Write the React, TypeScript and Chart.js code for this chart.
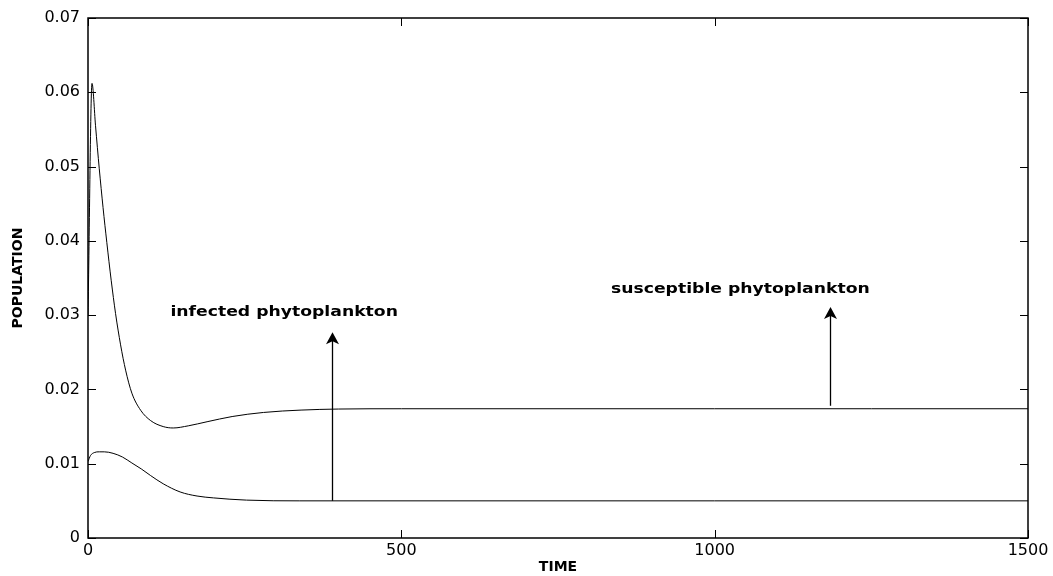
import React, { useEffect, useRef } from "react";
import { Chart, registerables } from "chart.js";

Chart.register(...registerables);

// ---- data ----
const susceptibleTime = [0, 6.4, 12, 18, 24, 30, 37, 44, 52, 60, 70, 84, 100, 120, 136, 160, 190, 230, 280, 340, 400, 500, 750, 1000, 1250, 1500];
const susceptibleValue = [0.030, 0.0612, 0.0555, 0.0497, 0.0445, 0.0398, 0.0347, 0.0302, 0.0260, 0.0226, 0.0195, 0.0172, 0.0158, 0.0150, 0.01481, 0.0151, 0.01565, 0.01635, 0.0169, 0.01722, 0.01736, 0.0174, 0.0174, 0.0174, 0.0174, 0.0174];

const infectedTime = [0, 4, 10, 18, 26, 40, 55, 70, 85, 100, 120, 147, 174, 200, 253, 338, 450, 750, 1000, 1500];
const infectedValue = [0.0103, 0.0111, 0.0115, 0.0116, 0.0116, 0.0114, 0.0109, 0.0101, 0.0093, 0.0084, 0.0073, 0.0062, 0.00565, 0.0054, 0.0051, 0.0050, 0.0050, 0.0050, 0.0050, 0.0050];

const xTicks = [0, 500, 1000, 1500];
const yTicks = [0, 0.01, 0.02, 0.03, 0.04, 0.05, 0.06, 0.07];

// annotations (in data units)
const annotationLabels = ["infected phytoplankton", "susceptible phytoplankton"];
const annotationArrowX = [389, 1184];
const annotationArrowFrom = [0.005, 0.0178];
const annotationArrowTo = [0.0277, 0.0311];
const annotationTextX = [313, 1041];
const annotationTextY = [0.0304, 0.0335];

const FONT = "'DejaVu Sans', sans-serif";
const TEXT_STRETCH = 1.23;

const framePlugin = {
  id: "frameTicks",
  afterDatasetsDraw(chart: any) {
    const { ctx, chartArea } = chart;
    const xs = chart.scales.x;
    const ys = chart.scales.y;
    ctx.save();
    ctx.strokeStyle = "#000";
    ctx.lineWidth = 1.5;
    ctx.strokeRect(chartArea.left, chartArea.top, chartArea.right - chartArea.left, chartArea.bottom - chartArea.top);
    ctx.lineWidth = 1;
    const L = 8;
    ctx.beginPath();
    for (const v of yTicks) {
      const py = Math.round(ys.getPixelForValue(v)) + 0.5;
      ctx.moveTo(chartArea.left, py);
      ctx.lineTo(chartArea.left + L, py);
      ctx.moveTo(chartArea.right, py);
      ctx.lineTo(chartArea.right - L, py);
    }
    for (const v of xTicks) {
      const px = Math.round(xs.getPixelForValue(v)) + 0.5;
      ctx.moveTo(px, chartArea.bottom);
      ctx.lineTo(px, chartArea.bottom - L);
      ctx.moveTo(px, chartArea.top);
      ctx.lineTo(px, chartArea.top + L);
    }
    ctx.stroke();

    // arrows + labels
    for (let i = 0; i < annotationLabels.length; i++) {
      const ax = Math.round(xs.getPixelForValue(annotationArrowX[i])) + 0.5;
      const y0 = ys.getPixelForValue(annotationArrowFrom[i]);
      const y1 = ys.getPixelForValue(annotationArrowTo[i]);
      ctx.lineWidth = 1.3;
      ctx.beginPath();
      ctx.moveTo(ax, y0);
      ctx.lineTo(ax, y1 + 4);
      ctx.stroke();
      ctx.fillStyle = "#000";
      ctx.beginPath();
      ctx.moveTo(ax, y1);
      ctx.lineTo(ax - 6.5, y1 + 12);
      ctx.lineTo(ax, y1 + 9);
      ctx.lineTo(ax + 6.5, y1 + 12);
      ctx.closePath();
      ctx.fill();

      ctx.save();
      const tx = xs.getPixelForValue(annotationTextX[i]);
      const ty = ys.getPixelForValue(annotationTextY[i]);
      ctx.translate(tx, ty);
      ctx.scale(TEXT_STRETCH, 1);
      ctx.font = `bold 14px ${FONT}`;
      ctx.textAlign = "center";
      ctx.textBaseline = "middle";
      ctx.fillText(annotationLabels[i], 0, 0);
      ctx.restore();
    }
    ctx.restore();
  },
};

export default function App() {
  const ref = useRef<HTMLCanvasElement | null>(null);
  useEffect(() => {
    document.body.style.margin = "0";
    const canvas = ref.current!;
    const chart = new Chart(canvas, {
      type: "line",
      data: {
        datasets: [
          {
            label: "susceptible phytoplankton",
            data: susceptibleTime.map((t, i) => ({ x: t, y: susceptibleValue[i] })),
            borderColor: "#000",
            borderWidth: 1,
            pointRadius: 0,
            cubicInterpolationMode: "monotone",
            fill: false,
          },
          {
            label: "infected phytoplankton",
            data: infectedTime.map((t, i) => ({ x: t, y: infectedValue[i] })),
            borderColor: "#000",
            borderWidth: 1,
            pointRadius: 0,
            cubicInterpolationMode: "monotone",
            fill: false,
          },
        ],
      },
      options: {
        responsive: false,
        animation: false,
        layout: { padding: { left: 0, right: 25, top: 18, bottom: 0 } },
        plugins: { legend: { display: false }, tooltip: { enabled: false }, title: { display: false } },
        scales: {
          x: {
            type: "linear",
            min: 0,
            max: 1500,
            afterBuildTicks: (s: any) => { s.ticks = xTicks.map((v) => ({ value: v })); },
            afterFit: (s: any) => { s.height = 38; },
            grid: { display: false, drawTicks: false },
            border: { display: false },
            ticks: { color: "#000", font: { family: FONT, size: 16 }, padding: 3, maxRotation: 0, callback: (v: any) => String(Number(v)) },
            title: { display: true, text: "TIME", color: "#000", font: { family: FONT, size: 14, weight: "bold" }, padding: { top: 0, bottom: 0 } },
          },
          y: {
            type: "linear",
            min: 0,
            max: 0.07,
            afterBuildTicks: (s: any) => { s.ticks = yTicks.map((v) => ({ value: v })); },
            afterFit: (s: any) => { s.width = 88; },
            grid: { display: false, drawTicks: false },
            border: { display: false },
            ticks: { color: "#000", font: { family: FONT, size: 16 }, padding: 8, callback: (v: any) => String(Number(v)) },
            title: { display: true, text: "POPULATION", color: "#000", font: { family: FONT, size: 14, weight: "bold" }, padding: { top: 10, bottom: 0 } },
          },
        },
      },
      plugins: [framePlugin],
    } as any);
    return () => chart.destroy();
  }, []);
  return (
    <div style={{ width: 1053, height: 576, background: "#fff" }}>
      <canvas ref={ref} width={1053} height={576} style={{ display: "block" }} />
    </div>
  );
}
